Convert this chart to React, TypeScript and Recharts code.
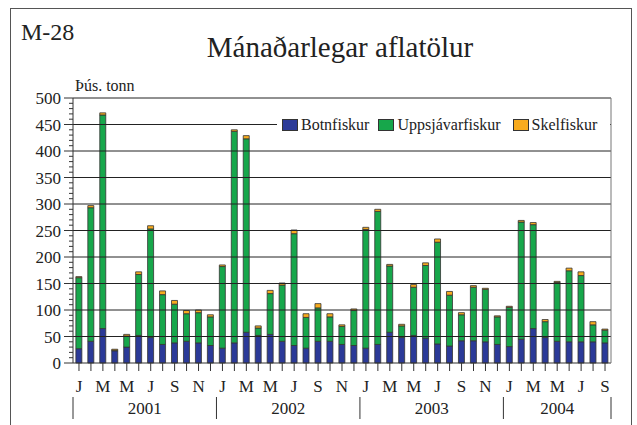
import React from 'react';
import { BarChart, Bar, XAxis, YAxis, ReferenceLine, Legend } from 'recharts';

const monthLetters = ['J', 'F', 'M', 'A', 'M', 'J', 'J', 'A', 'S', 'O', 'N', 'D'];
const years = ['2001', '2002', '2003', '2004'];
const monthsPerYear = [12, 12, 12, 9];

const botnfiskur = [
  27, 41, 65, 23, 30, 52, 48, 35, 38, 41, 38, 33,
  28, 38, 58, 52, 54, 41, 33, 28, 41, 41, 35, 33,
  28, 35, 58, 48, 52, 47, 36, 32, 42, 42, 40, 35,
  31, 45, 65, 48, 41, 40, 40, 40, 38,
];
const uppsjavarfiskur = [
  134, 252, 403, 1, 21, 115, 205, 94, 73, 52, 57, 54,
  154, 399, 365, 14, 77, 106, 211, 58, 63, 46, 34, 66,
  224, 251, 125, 22, 91, 137, 192, 96, 49, 101, 99, 52,
  74, 221, 196, 30, 111, 134, 125, 32, 24,
];
const skelfiskur = [
  2, 4, 4, 2, 3, 5, 6, 7, 7, 6, 5, 4,
  3, 3, 6, 4, 6, 4, 7, 7, 8, 6, 3, 3,
  4, 4, 3, 3, 5, 5, 6, 7, 4, 3, 2, 2,
  2, 3, 4, 4, 2, 5, 7, 6, 2,
];

const majorTicks = [0, 50, 100, 150, 200, 250, 300, 350, 400, 450, 500];
const gridValues = [50, 100, 150, 200, 250, 300, 350, 400, 450, 500];

const series = [
  { key: 'botnfiskur', name: 'Botnfiskur', color: '#2B3A98' },
  { key: 'uppsjavarfiskur', name: 'Uppsjávarfiskur', color: '#17A74B' },
  { key: 'skelfiskur', name: 'Skelfiskur', color: '#F8AB1E' },
];

const data = botnfiskur.map((b, i) => {
  let yi = 0;
  let acc = 0;
  while (i >= acc + monthsPerYear[yi]) {
    acc += monthsPerYear[yi];
    yi++;
  }
  const mi = i - acc;
  return {
    key: `${years[yi]}-${mi + 1}`,
    month: monthLetters[mi],
    monthIndex: mi,
    year: years[yi],
    yearIndex: yi,
    botnfiskur: b,
    uppsjavarfiskur: uppsjavarfiskur[i],
    skelfiskur: skelfiskur[i],
  };
});

const minorTicks: number[] = [];
for (let v = 0; v <= 500; v += 10) minorTicks.push(v);

const W = 637;
const H = 425;
const PLOT_LEFT = 73;
const PLOT_RIGHT = 611;
const PLOT_TOP = 98;
const PLOT_BOTTOM = 363;
const PLOT_W = PLOT_RIGHT - PLOT_LEFT;
const BAND = PLOT_W / data.length;
const Y_AXIS_W = 60;
const X_AXIS_H = 60;
const FONT = '"Liberation Serif", "Times New Roman", Times, serif';
const AXIS = '#333';

const YTick = (props: any) => {
  const { y, payload } = props;
  const v = payload.value;
  const major = v % 50 === 0;
  return (
    <g>
      <line x1={PLOT_LEFT - (major ? 9 : 4)} x2={PLOT_LEFT} y1={y} y2={y} stroke={AXIS} strokeWidth={1} />
      {major && (
        <text x={PLOT_LEFT - 12} y={y} dy={6} textAnchor="end" fontFamily={FONT} fontSize={17} fill="#222">
          {v}
        </text>
      )}
    </g>
  );
};

const XTick = (props: any) => {
  const { x, index } = props;
  const d = data[index];
  if (!d) return null;
  const els: any[] = [];
  els.push(<line key="t" x1={x} x2={x} y1={PLOT_BOTTOM} y2={PLOT_BOTTOM + 8} stroke={AXIS} strokeWidth={1} />);
  if (d.monthIndex % 2 === 0) {
    els.push(
      <text key="m" x={x} y={PLOT_BOTTOM + 29} textAnchor="middle" fontFamily={FONT} fontSize={17} fill="#222">
        {d.month}
      </text>
    );
  }
  if (d.monthIndex === 0) {
    const left = x - BAND / 2;
    els.push(<line key="s" x1={left} x2={left} y1={397} y2={419} stroke={AXIS} strokeWidth={1} />);
    els.push(
      <text key="y" x={left + (monthsPerYear[d.yearIndex] * BAND) / 2} y={414} textAnchor="middle" fontFamily={FONT} fontSize={17} fill="#222">
        {d.year}
      </text>
    );
  }
  if (index === data.length - 1) {
    const right = x + BAND / 2;
    els.push(<line key="e" x1={right} x2={right} y1={397} y2={419} stroke={AXIS} strokeWidth={1} />);
  }
  return <g>{els}</g>;
};

const LegendContent = () => (
  <div
    style={{
      background: '#fff',
      height: 20,
      display: 'flex',
      alignItems: 'center',
      paddingLeft: 5,
      fontFamily: FONT,
      fontSize: 16,
      color: '#222',
      whiteSpace: 'nowrap',
    }}
  >
    {series.map((s, i) => (
      <div key={s.key} style={{ display: 'flex', alignItems: 'center', marginRight: i === 1 ? 12 : 9 }}>
        <span
          style={{
            display: 'inline-block',
            width: 14,
            height: 10,
            background: s.color,
            border: '1px solid #333',
            marginRight: 3,
          }}
        />
        <span>{s.name}</span>
      </div>
    ))}
  </div>
);

export default function App() {
  return (
    <div style={{ position: 'absolute', left: 0, top: 0, width: W, height: H, overflow: 'hidden', background: '#fff' }}>
      <div
        style={{
          position: 'absolute',
          left: 10,
          top: 8,
          width: 622,
          height: 440,
          border: '1px solid #555',
          boxSizing: 'border-box',
        }}
      />
      <div style={{ position: 'absolute', left: 21, top: 20, fontFamily: FONT, fontSize: 24, color: '#222', lineHeight: 1 }}>
        M-28
      </div>
      <div
        style={{
          position: 'absolute',
          left: 0,
          width: 680,
          top: 33,
          textAlign: 'center',
          fontFamily: FONT,
          fontSize: 29,
          color: '#222',
          lineHeight: 1,
        }}
      >
        Mánaðarlegar aflatölur
      </div>
      <div style={{ position: 'absolute', left: 75, top: 78, fontFamily: FONT, fontSize: 16, color: '#222', lineHeight: 1 }}>
        Þús. tonn
      </div>
      <div style={{ position: 'absolute', left: 0, top: 0 }}>
        <BarChart
          width={W}
          height={H}
          data={data}
          margin={{
            top: PLOT_TOP,
            right: W - PLOT_RIGHT - 1,
            bottom: H - PLOT_BOTTOM - X_AXIS_H,
            left: PLOT_LEFT - Y_AXIS_W,
          }}
          barCategoryGap="24%"
        >
          <XAxis
            dataKey="key"
            height={X_AXIS_H}
            interval={0}
            tickLine={false}
            axisLine={{ stroke: AXIS }}
            tick={<XTick />}
          />
          <YAxis
            yAxisId="left"
            width={Y_AXIS_W}
            domain={[0, 500]}
            ticks={minorTicks}
            interval={0}
            tickLine={false}
            axisLine={{ stroke: AXIS }}
            tick={<YTick />}
          />
          <YAxis
            yAxisId="right"
            orientation="right"
            width={1}
            domain={[0, 500]}
            ticks={majorTicks}
            tick={false}
            tickLine={false}
            axisLine={{ stroke: '#777' }}
          />
          {gridValues.map((v) => (
            <ReferenceLine key={v} yAxisId="left" y={v} stroke="#222" strokeWidth={1} ifOverflow="visible" />
          ))}
          {series.map((s) => (
            <Bar
              key={s.key}
              yAxisId="left"
              dataKey={s.key}
              name={s.name}
              stackId="a"
              fill={s.color}
              stroke="#333"
              strokeWidth={0.8}
              isAnimationActive={false}
            />
          ))}
          <Legend
            content={<LegendContent />}
            wrapperStyle={{ position: 'absolute', left: 277, top: 115, width: 333, height: 0, overflow: 'visible' }}
          />
        </BarChart>
      </div>
    </div>
  );
}
